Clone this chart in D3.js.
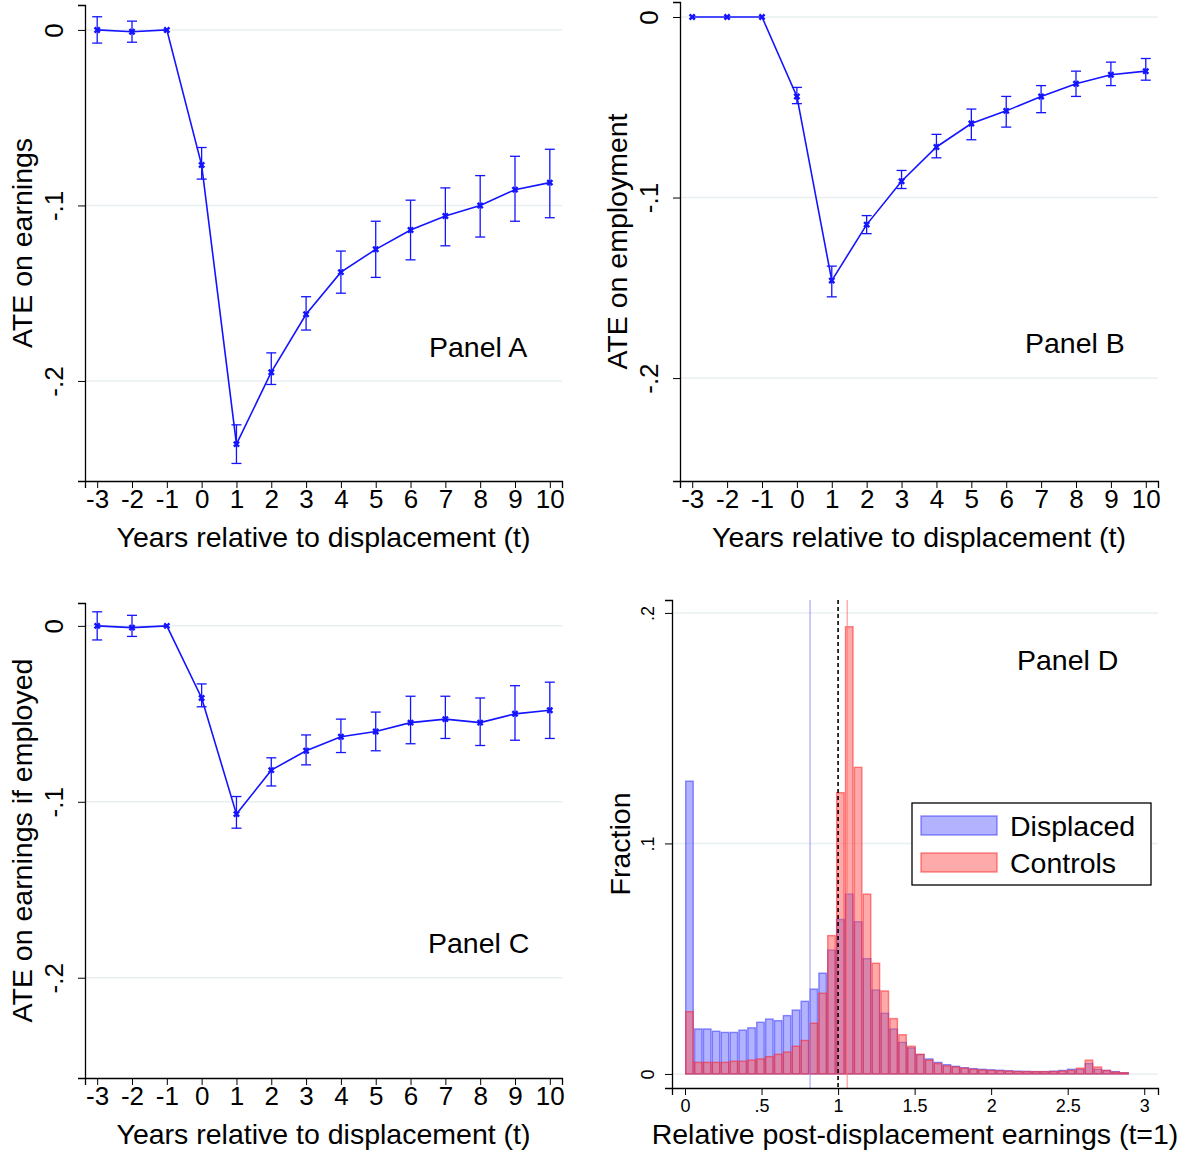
<!DOCTYPE html>
<html><head><meta charset="utf-8">
<script src="https://cdn.jsdelivr.net/npm/d3@7"></script>
<style>body{margin:0;background:#fff}text{font-family:Arial,"Liberation Sans",sans-serif}</style>
</head><body><svg id="c" width="1196" height="1152"></svg>
<script>
const years=[-3,-2,-1,0,1,2,3,4,5,6,7,8,9,10];
const earnEst=[0,-0.001,0,-0.077,-0.236,-0.195,-0.162,-0.138,-0.125,-0.114,-0.106,-0.100,-0.091,-0.087];
const earnLo=[-0.0075,-0.007,-0.0005,-0.085,-0.247,-0.202,-0.171,-0.150,-0.141,-0.131,-0.123,-0.118,-0.109,-0.107];
const earnHi=[0.0075,0.005,0.0005,-0.067,-0.225,-0.184,-0.152,-0.126,-0.109,-0.097,-0.090,-0.083,-0.072,-0.068];
const empEst=[0,0,0,-0.044,-0.146,-0.115,-0.091,-0.072,-0.059,-0.052,-0.044,-0.037,-0.032,-0.030];
const empLo=[0,0,0,-0.048,-0.155,-0.120,-0.095,-0.078,-0.068,-0.061,-0.053,-0.044,-0.038,-0.035];
const empHi=[0,0,0,-0.039,-0.138,-0.110,-0.085,-0.065,-0.051,-0.044,-0.038,-0.030,-0.025,-0.023];
const eieEst=[0,-0.001,0,-0.041,-0.107,-0.082,-0.071,-0.063,-0.060,-0.055,-0.053,-0.055,-0.050,-0.048];
const eieLo=[-0.008,-0.006,-0.0005,-0.046,-0.115,-0.091,-0.079,-0.072,-0.071,-0.067,-0.064,-0.068,-0.065,-0.064];
const eieHi=[0.008,0.006,0.0005,-0.033,-0.097,-0.075,-0.062,-0.053,-0.049,-0.040,-0.040,-0.041,-0.034,-0.032];
const yearLabels=["-3","-2","-1","0","1","2","3","4","5","6","7","8","9","10"];
const binWidth=0.058;
const displaced=[.127,.0195,.0195,.0185,.018,.018,.019,.020,.0224,.0238,.0231,.0253,.0277,.0315,.0368,.0437,.0537,.067,.078,.066,.050,.0364,.0263,.0195,.0137,.0113,.0084,.0065,.005,.004,.0033,.0027,.0023,.002,.0018,.0016,.0014,.0012,.0011,.001,.001,.0012,.0015,.002,.002,.0045,.002,.0015,.001,.0005];
const controls=[.027,.005,.005,.005,.005,.0055,.0055,.006,.0065,.0075,.0085,.0095,.012,.0145,.022,.035,.06,.122,.194,.133,.078,.048,.036,.024,.017,.012,.0085,.006,.0045,.0035,.003,.0025,.002,.0017,.0015,.0013,.0012,.001,.001,.001,.001,.001,.0012,.0015,.0025,.006,.003,.0015,.0008,.0005];
const meanDisplaced=0.817, meanControls=1.06;
const yTicks=[0,-0.1,-0.2], yTickLabels=["0","-.1","-.2"];
const dTicksX=[0,0.5,1,1.5,2,2.5,3], dTickXLabels=["0",".5","1","1.5","2","2.5","3"];
const dTicksY=[0,0.1,0.2], dTickYLabels=["0",".1",".2"];

const svg=d3.select("#c");
const BLUE="#1414ff", GRID="#e8eff1", FS=28.5;

function panel(o){
  const g=svg.append("g");
  const x=d3.scaleLinear().domain([-3.35,10.35]).range([o.l,o.r]);
  const y=d3.scaleLinear().domain([-0.257,o.ytop]).range([o.b,o.t]);
  yTicks.forEach(v=>g.append("line").attr("x1",o.l).attr("x2",o.r).attr("y1",y(v)).attr("y2",y(v)).attr("stroke",GRID).attr("stroke-width",1.5));
  const ax=g.append("g").attr("transform",`translate(0,${o.b})`).call(d3.axisBottom(x).tickValues(years).tickFormat((d,i)=>yearLabels[i]).tickSize(7).tickPadding(2));
  ax.selectAll("text").attr("font-size",26).attr("fill","#000");
  ax.select(".domain").attr("stroke","#000").attr("stroke-width",1.3);
  const ay=g.append("g").attr("transform",`translate(${o.l},0)`).call(d3.axisLeft(y).tickValues(yTicks).tickFormat((d,i)=>yTickLabels[i]).tickSize(7));
  ay.select(".domain").attr("stroke","#000").attr("stroke-width",1.3);
  ay.selectAll("text").attr("font-size",26).attr("fill","#000").attr("text-anchor","middle").attr("transform","translate(-22,0) rotate(-90)").attr("x",0).attr("dy",0);
  g.append("text").attr("transform",`translate(${o.l-63},${(o.t+o.b)/2}) rotate(-90)`).attr("text-anchor","middle").attr("font-size",FS).attr("dy","0.35em").text(o.ytitle);
  g.append("text").attr("x",(o.l+o.r)/2).attr("y",o.b+66).attr("text-anchor","middle").attr("font-size",FS).text("Years relative to displacement (t)");
  g.append("text").attr("x",o.px).attr("y",o.py).attr("font-size",FS).text(o.label);
  const ci=o.lo.map((v,i)=>({x:years[i],lo:v,hi:o.hi[i]}));
  ci.forEach(d=>{
    if(d.hi-d.lo<0.002) return;
    g.append("line").attr("x1",x(d.x)).attr("x2",x(d.x)).attr("y1",y(d.lo)).attr("y2",y(d.hi)).attr("stroke",BLUE).attr("stroke-width",1.3);
    [d.lo,d.hi].forEach(v=>g.append("line").attr("x1",x(d.x)-5).attr("x2",x(d.x)+5).attr("y1",y(v)).attr("y2",y(v)).attr("stroke",BLUE).attr("stroke-width",1.3));
  });
  const pts=o.est.map((v,i)=>[years[i],v]);
  g.append("path").attr("d",d3.line().x(d=>x(d[0])).y(d=>y(d[1]))(pts)).attr("fill","none").attr("stroke",BLUE).attr("stroke-width",1.6);
  g.append("g").selectAll("path").data(pts).join("path").attr("d",d3.symbol(d3.symbolCross,30)).attr("transform",d=>`translate(${x(d[0])},${y(d[1])}) rotate(45)`).attr("fill",BLUE);
}
panel({l:85,r:562,t:5,b:481,ytop:0.0142,est:earnEst,lo:earnLo,hi:earnHi,ytitle:"ATE on earnings",label:"Panel A",px:429,py:357});
panel({l:680,r:1158,t:2,b:481,ytop:0.0083,est:empEst,lo:empLo,hi:empHi,ytitle:"ATE on employment",label:"Panel B",px:1025,py:353});
panel({l:85,r:562,t:603,b:1078,ytop:0.013,est:eieEst,lo:eieLo,hi:eieHi,ytitle:"ATE on earnings if employed",label:"Panel C",px:428,py:953});

// Panel D
(function(){
  const l=672,r=1158,t=600,b=1088;
  const g=svg.append("g");
  const x=d3.scaleLinear().domain([-0.085,3.09]).range([l,r]);
  const y=d3.scaleLinear().domain([-0.0061,0.2056]).range([b,t]);
  dTicksY.forEach(v=>g.append("line").attr("x1",l).attr("x2",r).attr("y1",y(v)).attr("y2",y(v)).attr("stroke",GRID).attr("stroke-width",1.5));
  const bars=(arr,fill,stroke)=>g.append("g").selectAll("rect").data(arr).join("rect")
    .attr("x",(d,i)=>x(i*binWidth)+0.7).attr("width",x(binWidth)-x(0)-1.4).attr("y",d=>y(d)).attr("height",d=>y(0)-y(d))
    .attr("fill",fill).attr("fill-opacity",0.5).attr("stroke",stroke).attr("stroke-opacity",0.55).attr("stroke-width",1.4);
  bars(displaced,"#6666ff","#3333ff");
  bars(controls,"#ff5555","#ff2222");
  g.append("line").attr("x1",x(meanDisplaced)).attr("x2",x(meanDisplaced)).attr("y1",t).attr("y2",b).attr("stroke","#8888ff").attr("stroke-opacity",0.6).attr("stroke-width",1.5);
  g.append("line").attr("x1",x(meanControls)).attr("x2",x(meanControls)).attr("y1",t).attr("y2",b).attr("stroke","#ff7777").attr("stroke-opacity",0.6).attr("stroke-width",1.5);
  g.append("line").attr("x1",x(1)).attr("x2",x(1)).attr("y1",t).attr("y2",b).attr("stroke","#000").attr("stroke-width",1.6).attr("stroke-dasharray","4,3");
  const ax=g.append("g").attr("transform",`translate(0,${b})`).call(d3.axisBottom(x).tickValues(dTicksX).tickFormat((d,i)=>dTickXLabels[i]).tickSize(7).tickPadding(4));
  ax.selectAll("text").attr("font-size",18).attr("fill","#000");
  ax.select(".domain").attr("stroke","#000").attr("stroke-width",1.3);
  const ay=g.append("g").attr("transform",`translate(${l},0)`).call(d3.axisLeft(y).tickValues(dTicksY).tickFormat((d,i)=>dTickYLabels[i]).tickSize(7));
  ay.select(".domain").attr("stroke","#000").attr("stroke-width",1.3);
  ay.selectAll("text").attr("font-size",18).attr("fill","#000").attr("text-anchor","middle").attr("transform","translate(-18,0) rotate(-90)").attr("x",0).attr("dy",0);
  g.append("text").attr("transform",`translate(620,${(t+b)/2}) rotate(-90)`).attr("text-anchor","middle").attr("font-size",FS).attr("dy","0.35em").text("Fraction");
  g.append("text").attr("x",915).attr("y",1144).attr("text-anchor","middle").attr("font-size",FS).text("Relative post-displacement earnings (t=1)");
  g.append("text").attr("x",1017).attr("y",670).attr("font-size",FS).text("Panel D");
  const lg=g.append("g");
  lg.append("rect").attr("x",912).attr("y",803).attr("width",239).attr("height",82).attr("fill","#fff").attr("stroke","#000").attr("stroke-width",1.3);
  [["Displaced","#6666ff","#3333ff",816],["Controls","#ff5555","#ff2222",853]].forEach(([n,f,s,yy])=>{
    lg.append("rect").attr("x",921).attr("y",yy).attr("width",76).attr("height",19).attr("fill",f).attr("fill-opacity",0.5).attr("stroke",s).attr("stroke-opacity",0.55).attr("stroke-width",1.4);
    lg.append("text").attr("x",1010).attr("y",yy+20).attr("font-size",FS).text(n);
  });
})();
</script></body></html>
